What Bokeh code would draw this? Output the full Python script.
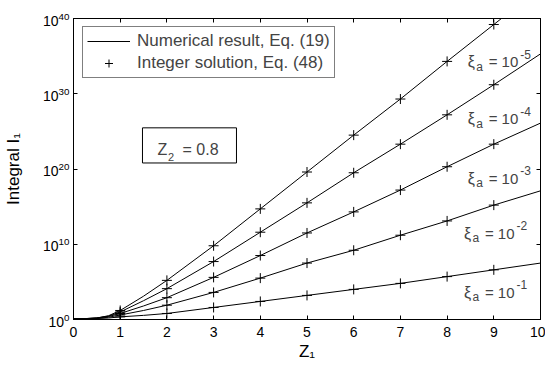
import math
from bokeh.plotting import figure
from bokeh.models import (Label, LinearAxis, LogAxis, FixedTicker, Range1d,
                          Legend, LegendItem, BoxAnnotation, CustomJSTickFormatter)
from bokeh.embed import file_html
from bokeh.resources import INLINE

# ---- data ----
z_line = [0, 0.25, 0.5, 0.75, 1, 1.5, 2, 3, 4, 5, 6, 7, 8, 9, 10]
z_marks = [1, 2, 3, 4, 5, 6, 7, 8, 9]
# log10 of integral I_1 along z_line for each xi_a
log_i_xi_1e_5 = [0.1, 0.12, 0.2, 0.5, 1.2, 3.1, 5.2, 9.8, 14.7, 19.6, 24.5, 29.3, 34.3, 39.2, 44.1]
log_i_xi_1e_4 = [0.1, 0.12, 0.2, 0.45, 1.0, 2.5, 4.1, 7.7, 11.6, 15.5, 19.5, 23.3, 27.2, 31.2, 35.3]
log_i_xi_1e_3 = [0.1, 0.12, 0.18, 0.4, 0.8, 1.8, 2.9, 5.6, 8.5, 11.5, 14.3, 17.2, 20.3, 23.3, 26.1]
log_i_xi_1e_2 = [0.1, 0.11, 0.16, 0.3, 0.6, 1.2, 1.9, 3.6, 5.5, 7.5, 9.2, 11.2, 13.1, 15.2, 17.1]
log_i_xi_1e_1 = [0.1, 0.1, 0.13, 0.2, 0.35, 0.55, 0.8, 1.6, 2.4, 3.2, 4.0, 4.8, 5.7, 6.6, 7.5]
series = [log_i_xi_1e_5, log_i_xi_1e_4, log_i_xi_1e_3, log_i_xi_1e_2, log_i_xi_1e_1]
xi_exponents = ["-5", "-4", "-3", "-2", "-1"]
x_ticks = [0, 1, 2, 3, 4, 5, 6, 7, 8, 9, 10]
y_ticks = [1e0, 1e10, 1e20, 1e30, 1e40]
legend_labels = ["Numerical result, Eq. (19)", "Integer solution, Eq. (48)"]
x_title = "Z₁"
y_title = "Integral I₁"
z2_text = "= 0.8"

FONT = "Liberation Sans"

p = figure(width=545, height=365, x_range=Range1d(0, 10), y_range=Range1d(1, 1e40),
           y_axis_type="log", output_backend="svg", toolbar_location=None,
           min_border_left=73, min_border_right=5, min_border_top=18, min_border_bottom=46,
           background_fill_color="white", border_fill_color="white")
p.xgrid.visible = False
p.ygrid.visible = False
p.outline_line_color = "black"
p.outline_line_width = 1

for ax in (p.xaxis[0], p.yaxis[0]):
    ax.axis_line_color = "black"
    ax.major_tick_line_color = "black"
    ax.major_tick_in = 4
    ax.major_tick_out = 0
    ax.minor_tick_line_color = None
    ax.major_label_text_font = FONT
    ax.major_label_text_color = "black"
    ax.axis_label_text_font = FONT
    ax.axis_label_text_font_style = "normal"
    ax.axis_label_text_color = "black"
    ax.axis_label_text_font_size = "17px"
p.xaxis[0].ticker = FixedTicker(ticks=x_ticks)
p.xaxis[0].major_label_text_font_size = "14px"
p.xaxis[0].major_label_standoff = 7
p.xaxis[0].axis_label = x_title
p.xaxis[0].axis_label_standoff = 2
p.yaxis[0].ticker = FixedTicker(ticks=y_ticks)
p.yaxis[0].major_label_text_font_size = "14px"
p.yaxis[0].major_label_standoff = 4
p.yaxis[0].axis_label = y_title
p.yaxis[0].axis_label_standoff = 17

# mirrored ticks (top and right), without labels
top = LinearAxis(ticker=FixedTicker(ticks=x_ticks), major_tick_in=4, major_tick_out=0,
                 minor_tick_line_color=None, formatter=CustomJSTickFormatter(code="return ''"),
                 major_label_standoff=0, axis_line_color="black")
right = LogAxis(ticker=FixedTicker(ticks=y_ticks), major_tick_in=4, major_tick_out=0,
                minor_tick_line_color=None, formatter=CustomJSTickFormatter(code="return ''"),
                major_label_standoff=0, axis_line_color="black")
p.add_layout(top, "above")
p.add_layout(right, "right")

line_r = None
mark_r = None
for s in series:
    yv = [10 ** v for v in s]
    r = p.line(z_line, yv, line_color="black", line_width=1)
    ym = [10 ** s[z_line.index(z)] for z in z_marks]
    m = p.scatter(z_marks, ym, marker="cross", size=10, line_color="black", line_width=1)
    if line_r is None:
        line_r, mark_r = r, m

legend = Legend(items=[LegendItem(label=legend_labels[0], renderers=[line_r]),
                       LegendItem(label=legend_labels[1], renderers=[mark_r])],
                location=(9, 241), label_text_font=FONT, label_text_font_size="17px",
                glyph_width=43, glyph_height=20, label_height=20, label_standoff=7,
                padding=4, spacing=2, margin=0, border_line_color="black",
                border_line_width=1, background_fill_alpha=1.0)
p.add_layout(legend)

# xi labels
label_pos = [(8.44, 34.27), (8.44, 26.67), (8.44, 18.8), (8.36, 11.47), (8.36, 3.6)]
for (lx, ly), ex in zip(label_pos, xi_exponents):
    yy = 10 ** ly
    p.add_layout(Label(x=lx, y=yy, text="ξ", text_font=FONT, text_font_size="16px",
                       text_baseline="alphabetic"))
    p.add_layout(Label(x=lx, y=yy, text="a", x_offset=8.5, y_offset=-5, text_font=FONT,
                       text_font_size="12px", text_baseline="alphabetic"))
    p.add_layout(Label(x=lx, y=yy, text="= 10", x_offset=21, text_font=FONT,
                       text_font_size="15px", text_baseline="alphabetic"))
    p.add_layout(Label(x=lx, y=yy, text=ex, x_offset=52.5, y_offset=7.5, text_font=FONT,
                       text_font_size="12px", text_baseline="alphabetic"))

# Z2 box
p.add_layout(BoxAnnotation(left=1.477, right=3.49, bottom=10 ** 20.8, top=10 ** 25.47,
                           fill_color="white", fill_alpha=1.0, line_color="black",
                           line_alpha=1.0, line_width=1))
zx, zy = 1.8, 10 ** 22.53
p.add_layout(Label(x=zx, y=zy, text="Z", text_font=FONT, text_font_size="16px",
                   text_baseline="alphabetic"))
p.add_layout(Label(x=zx, y=zy, text="2", x_offset=10.5, y_offset=-7, text_font=FONT,
                   text_font_size="11px", text_baseline="alphabetic"))
p.add_layout(Label(x=zx, y=zy, text=z2_text, x_offset=25, text_font=FONT,
                   text_font_size="16px", text_baseline="alphabetic"))

open("out.html", "w").write(file_html(p, INLINE))
